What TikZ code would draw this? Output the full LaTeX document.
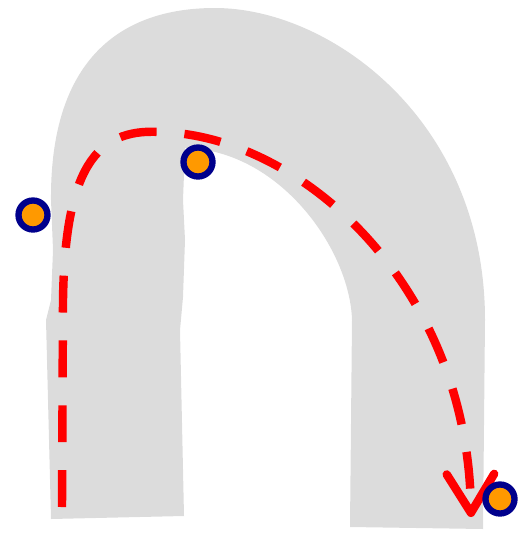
\documentclass[tikz,border=0pt]{standalone}
\usepackage{tikz}
\usetikzlibrary{arrows.meta,calc,positioning}
\definecolor{tubegray}{HTML}{DCDCDC}
\definecolor{pinblue}{HTML}{00008C}
\definecolor{pinorange}{HTML}{FF9900}
\tikzset{
  pin/.style={circle,draw=pinblue,fill=pinorange,line width=3.6pt,minimum size=0.58cm,inner sep=0pt},
  route/.style={red,line width=4.8pt,dash pattern=on 21pt off 15.9pt}
}
\begin{document}
\begin{tikzpicture}[x=0.02cm,y=-0.02cm]
\useasboundingbox (0,0) rectangle (519,534);
\fill[tubegray] (51,519) -- (46,320) -- (51,300) -- (53,250) -- (51,200)
  .. controls (50,60) and (120,8) .. (215,8)
  .. controls (330,8) and (485,120) .. (485,320)
  -- (483,529) -- (350,527) -- (352,320)
  .. controls (350,250) and (280,150) .. (185,148)
  -- (183,200) -- (185,240) -- (183,297) -- (180,330) -- (184,516) -- cycle;
\coordinate (start) at (62,507);
\coordinate (top) at (160,132);
\coordinate (end) at (471,517);
\draw[route,-{Straight Barb[length=22pt,width=27pt,round]}] (start) -- (63,300)
  .. controls (65,170) and (95,128) .. (top)
  .. controls (300,135) and (468,285) .. (end);
\node[pin] (entry) at (33,215) {};
\node[pin] (bend) at (198,162) {};
\node[pin] (exit) at (500,499) {};
\end{tikzpicture}
\end{document}
